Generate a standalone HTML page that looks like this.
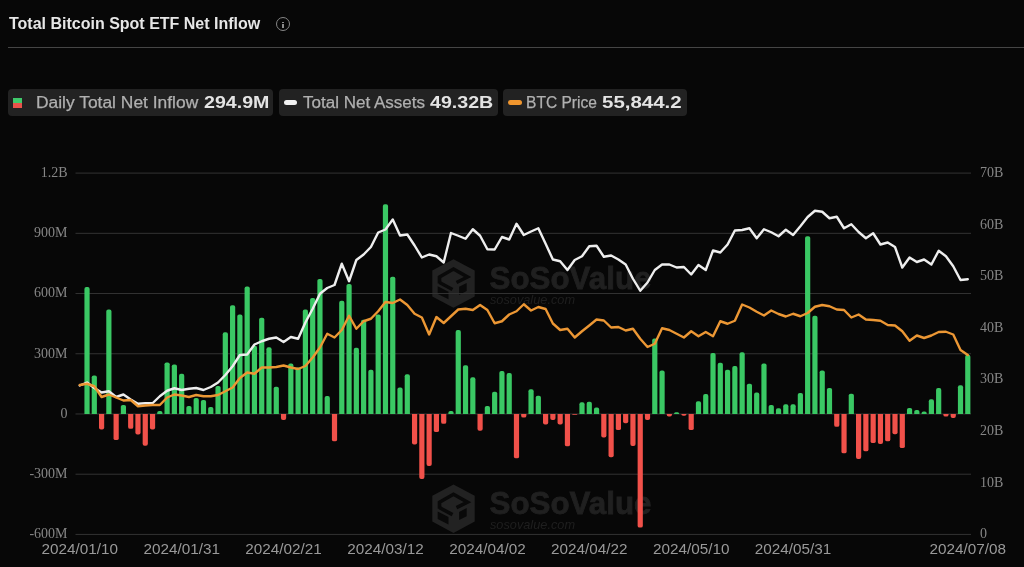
<!DOCTYPE html>
<html><head><meta charset="utf-8"><title>Total Bitcoin Spot ETF Net Inflow</title>
<style>
html,body{margin:0;padding:0;background:#070707;}
body{width:1024px;height:567px;position:relative;overflow:hidden;font-family:"Liberation Sans",sans-serif;}
.title{position:absolute;left:9px;top:14px;font-size:16px;font-weight:700;color:#e6e6e6;white-space:nowrap;line-height:20px;}
.info{position:absolute;left:276.1px;top:17.1px;width:12px;height:12px;border:1.3px solid #858585;border-radius:50%;}
.info i{position:absolute;left:5.35px;top:3.5px;width:1.3px;height:1.3px;background:#8c8c8c}
.info b{position:absolute;left:5.35px;top:5.7px;width:1.3px;height:4.1px;background:#8c8c8c}
.sep{position:absolute;left:8px;right:0;top:47px;height:1px;background:#454545}
.pill{position:absolute;top:89px;height:27px;background:#222;border-radius:4px;color:#b0b0b0;font-size:16px;line-height:27px;white-space:nowrap}
.pill span{position:absolute;top:0.3px;-webkit-text-stroke:0.25px #b0b0b0;transform-origin:0 50%;display:block}
.pill .v{font-weight:700;color:#e4e4e4;font-size:16.5px;top:0.2px;-webkit-text-stroke:0}
</style></head><body>
<div class="title" id="title">Total Bitcoin Spot ETF Net Inflow</div>
<div class="info"><i></i><b></b></div>
<div class="sep"></div>
<div class="pill" style="left:8px;width:265px"><div style="position:absolute;left:5px;top:9px;width:9px;height:5px;background:#3fc96b"></div><div style="position:absolute;left:5px;top:14px;width:9px;height:5px;background:#e8534a"></div><span id="l1" style="left:28px;transform:scaleX(1.088)">Daily Total Net Inflow</span><span class="v" id="v1" style="left:195.5px;transform:scaleX(1.188)">294.9M</span></div>
<div class="pill" style="left:279px;width:219px"><div style="position:absolute;left:4.5px;top:11px;width:13.5px;height:5px;border-radius:2.5px;background:#f2f2f2"></div><span id="l2" style="left:23.5px;transform:scaleX(1.064)">Total Net Assets</span><span class="v" id="v2" style="left:150.5px;transform:scaleX(1.188)">49.32B</span></div>
<div class="pill" style="left:503px;width:184px"><div style="position:absolute;left:4.5px;top:11px;width:14px;height:5px;border-radius:2.5px;background:#f0962e"></div><span id="l3" style="left:22.5px;transform:scaleX(0.973)">BTC Price</span><span class="v" id="v3" style="left:99px;transform:scaleX(1.24)">55,844.2</span></div>
<svg width="1024" height="567" viewBox="0 0 1024 567" style="position:absolute;left:0;top:0"><g transform="translate(453.5,283.5)"><path d="M0,-24.3 L21.2,-12.9 L21.2,12.9 L0,24.3 L-21.2,12.9 L-21.2,-12.9Z" fill="#222"/><g stroke="#090909" fill="none" stroke-width="3.6"><path d="M-14,0 L-14,-6.5 L0,-14.5 L14,-6.5 L3,-1"/><path d="M-14,-1 L-1,6"/></g><path d="M-15.8,2.8 L-5,8.2 L-5,15.8 L-15.8,10.4Z" fill="#090909"/><path d="M5.6,3.2 L13.2,-0.6 L13.2,7.6 L5.6,11.4Z" fill="#090909"/></g><text x="489.5" y="288.5" font-family="'Liberation Sans',sans-serif" font-weight="700" font-size="32" fill="#202020" stroke="#202020" stroke-width="0.8" textLength="162" lengthAdjust="spacingAndGlyphs">SoSoValue</text><text x="490" y="303.5" font-family="'Liberation Sans',sans-serif" font-style="italic" font-size="13" fill="#1f1f1f" textLength="85" lengthAdjust="spacingAndGlyphs">sosovalue.com</text>
<g transform="translate(453.5,508.7)"><path d="M0,-24.3 L21.2,-12.9 L21.2,12.9 L0,24.3 L-21.2,12.9 L-21.2,-12.9Z" fill="#222"/><g stroke="#090909" fill="none" stroke-width="3.6"><path d="M-14,0 L-14,-6.5 L0,-14.5 L14,-6.5 L3,-1"/><path d="M-14,-1 L-1,6"/></g><path d="M-15.8,2.8 L-5,8.2 L-5,15.8 L-15.8,10.4Z" fill="#090909"/><path d="M5.6,3.2 L13.2,-0.6 L13.2,7.6 L5.6,11.4Z" fill="#090909"/></g><text x="489.5" y="513.7" font-family="'Liberation Sans',sans-serif" font-weight="700" font-size="32" fill="#202020" stroke="#202020" stroke-width="0.8" textLength="162" lengthAdjust="spacingAndGlyphs">SoSoValue</text><text x="490" y="528.7" font-family="'Liberation Sans',sans-serif" font-style="italic" font-size="13" fill="#1f1f1f" textLength="85" lengthAdjust="spacingAndGlyphs">sosovalue.com</text>
<line x1="75.5" y1="173.1" x2="971" y2="173.1" stroke="#333" stroke-width="1"/>
<line x1="75.5" y1="233.32" x2="971" y2="233.32" stroke="#333" stroke-width="1"/>
<line x1="75.5" y1="293.54" x2="971" y2="293.54" stroke="#333" stroke-width="1"/>
<line x1="75.5" y1="353.76" x2="971" y2="353.76" stroke="#333" stroke-width="1"/>
<line x1="75.5" y1="413.98" x2="971" y2="413.98" stroke="#333" stroke-width="1"/>
<line x1="75.5" y1="474.2" x2="971" y2="474.2" stroke="#333" stroke-width="1"/>
<line x1="75.5" y1="534.42" x2="971" y2="534.42" stroke="#333" stroke-width="1"/>
<path d="M84.43,413.98 L84.43,289.02 Q84.43,287.12 86.33,287.12 L87.73,287.12 Q89.63,287.12 89.63,289.02 L89.63,413.98 Z" fill="#3ac864"/>
<path d="M91.71,413.98 L91.71,377.34 Q91.71,375.44 93.61,375.44 L95.01,375.44 Q96.91,375.44 96.91,377.34 L96.91,413.98 Z" fill="#3ac864"/>
<path d="M98.99,413.98 L98.99,427.54 Q98.99,429.44 100.89,429.44 L102.29,429.44 Q104.19,429.44 104.19,427.54 L104.19,413.98 Z" fill="#f1514a"/>
<path d="M106.27,413.98 L106.27,311.50 Q106.27,309.60 108.17,309.60 L109.57,309.60 Q111.47,309.60 111.47,311.50 L111.47,413.98 Z" fill="#3ac864"/>
<path d="M113.55,413.98 L113.55,438.18 Q113.55,440.08 115.45,440.08 L116.84,440.08 Q118.75,440.08 118.75,438.18 L118.75,413.98 Z" fill="#f1514a"/>
<path d="M120.82,413.98 L120.82,406.85 Q120.82,404.95 122.72,404.95 L124.12,404.95 Q126.02,404.95 126.02,406.85 L126.02,413.98 Z" fill="#3ac864"/>
<path d="M128.10,413.98 L128.10,426.93 Q128.10,428.83 130.00,428.83 L131.40,428.83 Q133.30,428.83 133.30,426.93 L133.30,413.98 Z" fill="#f1514a"/>
<path d="M135.38,413.98 L135.38,432.55 Q135.38,434.45 137.28,434.45 L138.68,434.45 Q140.58,434.45 140.58,432.55 L140.58,413.98 Z" fill="#f1514a"/>
<path d="M142.66,413.98 L142.66,443.80 Q142.66,445.70 144.56,445.70 L145.96,445.70 Q147.86,445.70 147.86,443.80 L147.86,413.98 Z" fill="#f1514a"/>
<path d="M149.94,413.98 L149.94,427.54 Q149.94,429.44 151.84,429.44 L153.24,429.44 Q155.14,429.44 155.14,427.54 L155.14,413.98 Z" fill="#f1514a"/>
<path d="M157.22,413.98 L157.22,412.87 Q157.22,410.97 159.12,410.97 L160.52,410.97 Q162.42,410.97 162.42,412.87 L162.42,413.98 Z" fill="#3ac864"/>
<path d="M164.50,413.98 L164.50,364.29 Q164.50,362.39 166.40,362.39 L167.80,362.39 Q169.70,362.39 169.70,364.29 L169.70,413.98 Z" fill="#3ac864"/>
<path d="M171.78,413.98 L171.78,366.30 Q171.78,364.40 173.68,364.40 L175.08,364.40 Q176.98,364.40 176.98,366.30 L176.98,413.98 Z" fill="#3ac864"/>
<path d="M179.06,413.98 L179.06,375.73 Q179.06,373.83 180.96,373.83 L182.36,373.83 Q184.26,373.83 184.26,375.73 L184.26,413.98 Z" fill="#3ac864"/>
<path d="M186.34,413.98 L186.34,407.85 Q186.34,405.95 188.24,405.95 L189.63,405.95 Q191.53,405.95 191.53,407.85 L191.53,413.98 Z" fill="#3ac864"/>
<path d="M193.61,413.98 L193.61,399.82 Q193.61,397.92 195.51,397.92 L196.91,397.92 Q198.81,397.92 198.81,399.82 L198.81,413.98 Z" fill="#3ac864"/>
<path d="M200.89,413.98 L200.89,401.83 Q200.89,399.93 202.79,399.93 L204.19,399.93 Q206.09,399.93 206.09,401.83 L206.09,413.98 Z" fill="#3ac864"/>
<path d="M208.17,413.98 L208.17,408.85 Q208.17,406.95 210.07,406.95 L211.47,406.95 Q213.37,406.95 213.37,408.85 L213.37,413.98 Z" fill="#3ac864"/>
<path d="M215.45,413.98 L215.45,387.78 Q215.45,385.88 217.35,385.88 L218.75,385.88 Q220.65,385.88 220.65,387.78 L220.65,413.98 Z" fill="#3ac864"/>
<path d="M222.73,413.98 L222.73,334.18 Q222.73,332.28 224.63,332.28 L226.03,332.28 Q227.93,332.28 227.93,334.18 L227.93,413.98 Z" fill="#3ac864"/>
<path d="M230.01,413.98 L230.01,307.08 Q230.01,305.18 231.91,305.18 L233.31,305.18 Q235.21,305.18 235.21,307.08 L235.21,413.98 Z" fill="#3ac864"/>
<path d="M237.29,413.98 L237.29,316.52 Q237.29,314.62 239.19,314.62 L240.59,314.62 Q242.49,314.62 242.49,316.52 L242.49,413.98 Z" fill="#3ac864"/>
<path d="M244.57,413.98 L244.57,288.41 Q244.57,286.51 246.47,286.51 L247.87,286.51 Q249.77,286.51 249.77,288.41 L249.77,413.98 Z" fill="#3ac864"/>
<path d="M251.85,413.98 L251.85,347.63 Q251.85,345.73 253.75,345.73 L255.15,345.73 Q257.05,345.73 257.05,347.63 L257.05,413.98 Z" fill="#3ac864"/>
<path d="M259.12,413.98 L259.12,319.53 Q259.12,317.63 261.02,317.63 L262.43,317.63 Q264.32,317.63 264.32,319.53 L264.32,413.98 Z" fill="#3ac864"/>
<path d="M266.40,413.98 L266.40,349.24 Q266.40,347.34 268.30,347.34 L269.70,347.34 Q271.60,347.34 271.60,349.24 L271.60,413.98 Z" fill="#3ac864"/>
<path d="M273.68,413.98 L273.68,388.58 Q273.68,386.68 275.58,386.68 L276.98,386.68 Q278.88,386.68 278.88,388.58 L278.88,413.98 Z" fill="#3ac864"/>
<path d="M280.96,413.98 L280.96,418.10 Q280.96,420.00 282.86,420.00 L284.26,420.00 Q286.16,420.00 286.16,418.10 L286.16,413.98 Z" fill="#f1514a"/>
<path d="M288.24,413.98 L288.24,365.50 Q288.24,363.60 290.14,363.60 L291.54,363.60 Q293.44,363.60 293.44,365.50 L293.44,413.98 Z" fill="#3ac864"/>
<path d="M295.52,413.98 L295.52,369.31 Q295.52,367.41 297.42,367.41 L298.82,367.41 Q300.72,367.41 300.72,369.31 L300.72,413.98 Z" fill="#3ac864"/>
<path d="M302.80,413.98 L302.80,311.50 Q302.80,309.60 304.70,309.60 L306.10,309.60 Q308.00,309.60 308.00,311.50 L308.00,413.98 Z" fill="#3ac864"/>
<path d="M310.08,413.98 L310.08,299.86 Q310.08,297.96 311.98,297.96 L313.38,297.96 Q315.28,297.96 315.28,299.86 L315.28,413.98 Z" fill="#3ac864"/>
<path d="M317.36,413.98 L317.36,280.79 Q317.36,278.89 319.26,278.89 L320.66,278.89 Q322.56,278.89 322.56,280.79 L322.56,413.98 Z" fill="#3ac864"/>
<path d="M324.64,413.98 L324.64,398.01 Q324.64,396.11 326.54,396.11 L327.94,396.11 Q329.84,396.11 329.84,398.01 L329.84,413.98 Z" fill="#3ac864"/>
<path d="M331.91,413.98 L331.91,439.38 Q331.91,441.28 333.81,441.28 L335.21,441.28 Q337.11,441.28 337.11,439.38 L337.11,413.98 Z" fill="#f1514a"/>
<path d="M339.19,413.98 L339.19,302.67 Q339.19,300.77 341.09,300.77 L342.49,300.77 Q344.39,300.77 344.39,302.67 L344.39,413.98 Z" fill="#3ac864"/>
<path d="M346.47,413.98 L346.47,285.80 Q346.47,283.90 348.37,283.90 L349.77,283.90 Q351.67,283.90 351.67,285.80 L351.67,413.98 Z" fill="#3ac864"/>
<path d="M353.75,413.98 L353.75,349.64 Q353.75,347.74 355.65,347.74 L357.05,347.74 Q358.95,347.74 358.95,349.64 L358.95,413.98 Z" fill="#3ac864"/>
<path d="M361.03,413.98 L361.03,321.54 Q361.03,319.64 362.93,319.64 L364.33,319.64 Q366.23,319.64 366.23,321.54 L366.23,413.98 Z" fill="#3ac864"/>
<path d="M368.31,413.98 L368.31,371.72 Q368.31,369.82 370.21,369.82 L371.61,369.82 Q373.51,369.82 373.51,371.72 L373.51,413.98 Z" fill="#3ac864"/>
<path d="M375.59,413.98 L375.59,316.52 Q375.59,314.62 377.49,314.62 L378.89,314.62 Q380.79,314.62 380.79,316.52 L380.79,413.98 Z" fill="#3ac864"/>
<path d="M382.87,413.98 L382.87,206.11 Q382.87,204.21 384.77,204.21 L386.17,204.21 Q388.07,204.21 388.07,206.11 L388.07,413.98 Z" fill="#3ac864"/>
<path d="M390.15,413.98 L390.15,278.58 Q390.15,276.68 392.05,276.68 L393.45,276.68 Q395.35,276.68 395.35,278.58 L395.35,413.98 Z" fill="#3ac864"/>
<path d="M397.43,413.98 L397.43,389.38 Q397.43,387.48 399.33,387.48 L400.73,387.48 Q402.63,387.48 402.63,389.38 L402.63,413.98 Z" fill="#3ac864"/>
<path d="M404.70,413.98 L404.70,376.13 Q404.70,374.23 406.60,374.23 L408.00,374.23 Q409.90,374.23 409.90,376.13 L409.90,413.98 Z" fill="#3ac864"/>
<path d="M411.98,413.98 L411.98,442.59 Q411.98,444.49 413.88,444.49 L415.28,444.49 Q417.18,444.49 417.18,442.59 L417.18,413.98 Z" fill="#f1514a"/>
<path d="M419.26,413.98 L419.26,477.12 Q419.26,479.02 421.16,479.02 L422.56,479.02 Q424.46,479.02 424.46,477.12 L424.46,413.98 Z" fill="#f1514a"/>
<path d="M426.54,413.98 L426.54,464.07 Q426.54,465.97 428.44,465.97 L429.84,465.97 Q431.74,465.97 431.74,464.07 L431.74,413.98 Z" fill="#f1514a"/>
<path d="M433.82,413.98 L433.82,430.15 Q433.82,432.05 435.72,432.05 L437.12,432.05 Q439.02,432.05 439.02,430.15 L439.02,413.98 Z" fill="#f1514a"/>
<path d="M441.10,413.98 L441.10,421.92 Q441.10,423.82 443.00,423.82 L444.40,423.82 Q446.30,423.82 446.30,421.92 L446.30,413.98 Z" fill="#f1514a"/>
<path d="M448.38,413.98 L448.38,412.87 Q448.38,410.97 450.28,410.97 L451.68,410.97 Q453.58,410.97 453.58,412.87 L453.58,413.98 Z" fill="#3ac864"/>
<path d="M455.66,413.98 L455.66,331.97 Q455.66,330.07 457.56,330.07 L458.96,330.07 Q460.86,330.07 460.86,331.97 L460.86,413.98 Z" fill="#3ac864"/>
<path d="M462.94,413.98 L462.94,367.10 Q462.94,365.20 464.84,365.20 L466.24,365.20 Q468.14,365.20 468.14,367.10 L468.14,413.98 Z" fill="#3ac864"/>
<path d="M470.22,413.98 L470.22,379.15 Q470.22,377.25 472.12,377.25 L473.52,377.25 Q475.42,377.25 475.42,379.15 L475.42,413.98 Z" fill="#3ac864"/>
<path d="M477.49,413.98 L477.49,428.74 Q477.49,430.64 479.39,430.64 L480.79,430.64 Q482.69,430.64 482.69,428.74 L482.69,413.98 Z" fill="#f1514a"/>
<path d="M484.77,413.98 L484.77,407.85 Q484.77,405.95 486.67,405.95 L488.07,405.95 Q489.97,405.95 489.97,407.85 L489.97,413.98 Z" fill="#3ac864"/>
<path d="M492.05,413.98 L492.05,393.60 Q492.05,391.70 493.95,391.70 L495.35,391.70 Q497.25,391.70 497.25,393.60 L497.25,413.98 Z" fill="#3ac864"/>
<path d="M499.33,413.98 L499.33,372.92 Q499.33,371.02 501.23,371.02 L502.63,371.02 Q504.53,371.02 504.53,372.92 L504.53,413.98 Z" fill="#3ac864"/>
<path d="M506.61,413.98 L506.61,374.93 Q506.61,373.03 508.51,373.03 L509.91,373.03 Q511.81,373.03 511.81,374.93 L511.81,413.98 Z" fill="#3ac864"/>
<path d="M513.89,413.98 L513.89,456.44 Q513.89,458.34 515.79,458.34 L517.19,458.34 Q519.09,458.34 519.09,456.44 L519.09,413.98 Z" fill="#f1514a"/>
<path d="M521.17,413.98 L521.17,415.69 Q521.17,417.59 523.07,417.59 L524.47,417.59 Q526.37,417.59 526.37,415.69 L526.37,413.98 Z" fill="#f1514a"/>
<path d="M528.45,413.98 L528.45,391.19 Q528.45,389.29 530.35,389.29 L531.75,389.29 Q533.65,389.29 533.65,391.19 L533.65,413.98 Z" fill="#3ac864"/>
<path d="M535.73,413.98 L535.73,397.61 Q535.73,395.71 537.63,395.71 L539.03,395.71 Q540.93,395.71 540.93,397.61 L540.93,413.98 Z" fill="#3ac864"/>
<path d="M543.01,413.98 L543.01,422.52 Q543.01,424.42 544.91,424.42 L546.31,424.42 Q548.21,424.42 548.21,422.52 L548.21,413.98 Z" fill="#f1514a"/>
<path d="M550.28,413.98 L550.28,418.10 Q550.28,420.00 552.18,420.00 L553.59,420.00 Q555.49,420.00 555.49,418.10 L555.49,413.98 Z" fill="#f1514a"/>
<path d="M557.56,413.98 L557.56,422.52 Q557.56,424.42 559.46,424.42 L560.86,424.42 Q562.76,424.42 562.76,422.52 L562.76,413.98 Z" fill="#f1514a"/>
<path d="M564.84,413.98 L564.84,444.40 Q564.84,446.30 566.74,446.30 L568.14,446.30 Q570.04,446.30 570.04,444.40 L570.04,413.98 Z" fill="#f1514a"/>
<path d="M572.12,413.98 L572.12,413.98 Q572.12,414.78 572.92,414.78 L576.52,414.78 Q577.32,414.78 577.32,413.98 L577.32,413.98 Z" fill="#f1514a"/>
<path d="M579.40,413.98 L579.40,404.24 Q579.40,402.34 581.30,402.34 L582.70,402.34 Q584.60,402.34 584.60,404.24 L584.60,413.98 Z" fill="#3ac864"/>
<path d="M586.68,413.98 L586.68,403.64 Q586.68,401.74 588.58,401.74 L589.98,401.74 Q591.88,401.74 591.88,403.64 L591.88,413.98 Z" fill="#3ac864"/>
<path d="M593.96,413.98 L593.96,409.46 Q593.96,407.56 595.86,407.56 L597.26,407.56 Q599.16,407.56 599.16,409.46 L599.16,413.98 Z" fill="#3ac864"/>
<path d="M601.24,413.98 L601.24,435.57 Q601.24,437.47 603.14,437.47 L604.54,437.47 Q606.44,437.47 606.44,435.57 L606.44,413.98 Z" fill="#f1514a"/>
<path d="M608.52,413.98 L608.52,455.24 Q608.52,457.14 610.42,457.14 L611.82,457.14 Q613.72,457.14 613.72,455.24 L613.72,413.98 Z" fill="#f1514a"/>
<path d="M615.80,413.98 L615.80,428.14 Q615.80,430.04 617.70,430.04 L619.10,430.04 Q621.00,430.04 621.00,428.14 L621.00,413.98 Z" fill="#f1514a"/>
<path d="M623.07,413.98 L623.07,421.31 Q623.07,423.21 624.97,423.21 L626.38,423.21 Q628.27,423.21 628.27,421.31 L628.27,413.98 Z" fill="#f1514a"/>
<path d="M630.35,413.98 L630.35,444.00 Q630.35,445.90 632.25,445.90 L633.65,445.90 Q635.55,445.90 635.55,444.00 L635.55,413.98 Z" fill="#f1514a"/>
<path d="M637.63,413.98 L637.63,525.70 Q637.63,527.60 639.53,527.60 L640.93,527.60 Q642.83,527.60 642.83,525.70 L642.83,413.98 Z" fill="#f1514a"/>
<path d="M644.91,413.98 L644.91,418.10 Q644.91,420.00 646.81,420.00 L648.21,420.00 Q650.11,420.00 650.11,418.10 L650.11,413.98 Z" fill="#f1514a"/>
<path d="M652.19,413.98 L652.19,340.40 Q652.19,338.50 654.09,338.50 L655.49,338.50 Q657.39,338.50 657.39,340.40 L657.39,413.98 Z" fill="#3ac864"/>
<path d="M659.47,413.98 L659.47,372.52 Q659.47,370.62 661.37,370.62 L662.77,370.62 Q664.67,370.62 664.67,372.52 L664.67,413.98 Z" fill="#3ac864"/>
<path d="M666.75,413.98 L666.75,414.49 Q666.75,416.39 668.65,416.39 L670.05,416.39 Q671.95,416.39 671.95,414.49 L671.95,413.98 Z" fill="#f1514a"/>
<path d="M674.03,413.98 L674.03,413.98 Q674.03,412.37 675.63,412.37 L677.62,412.37 Q679.23,412.37 679.23,413.98 L679.23,413.98 Z" fill="#3ac864"/>
<path d="M681.31,413.98 L681.31,413.98 Q681.31,415.79 683.11,415.79 L684.70,415.79 Q686.51,415.79 686.51,413.98 L686.51,413.98 Z" fill="#f1514a"/>
<path d="M688.59,413.98 L688.59,428.14 Q688.59,430.04 690.49,430.04 L691.89,430.04 Q693.79,430.04 693.79,428.14 L693.79,413.98 Z" fill="#f1514a"/>
<path d="M695.87,413.98 L695.87,403.03 Q695.87,401.13 697.76,401.13 L699.17,401.13 Q701.07,401.13 701.07,403.03 L701.07,413.98 Z" fill="#3ac864"/>
<path d="M703.14,413.98 L703.14,396.01 Q703.14,394.11 705.04,394.11 L706.44,394.11 Q708.34,394.11 708.34,396.01 L708.34,413.98 Z" fill="#3ac864"/>
<path d="M710.42,413.98 L710.42,354.86 Q710.42,352.96 712.32,352.96 L713.72,352.96 Q715.62,352.96 715.62,354.86 L715.62,413.98 Z" fill="#3ac864"/>
<path d="M717.70,413.98 L717.70,364.69 Q717.70,362.79 719.60,362.79 L721.00,362.79 Q722.90,362.79 722.90,364.69 L722.90,413.98 Z" fill="#3ac864"/>
<path d="M724.98,413.98 L724.98,371.72 Q724.98,369.82 726.88,369.82 L728.28,369.82 Q730.18,369.82 730.18,371.72 L730.18,413.98 Z" fill="#3ac864"/>
<path d="M732.26,413.98 L732.26,367.90 Q732.26,366.00 734.16,366.00 L735.56,366.00 Q737.46,366.00 737.46,367.90 L737.46,413.98 Z" fill="#3ac864"/>
<path d="M739.54,413.98 L739.54,354.25 Q739.54,352.35 741.44,352.35 L742.84,352.35 Q744.74,352.35 744.74,354.25 L744.74,413.98 Z" fill="#3ac864"/>
<path d="M746.82,413.98 L746.82,385.57 Q746.82,383.67 748.72,383.67 L750.12,383.67 Q752.02,383.67 752.02,385.57 L752.02,413.98 Z" fill="#3ac864"/>
<path d="M754.10,413.98 L754.10,394.40 Q754.10,392.50 756.00,392.50 L757.40,392.50 Q759.30,392.50 759.30,394.40 L759.30,413.98 Z" fill="#3ac864"/>
<path d="M761.38,413.98 L761.38,365.50 Q761.38,363.60 763.28,363.60 L764.68,363.60 Q766.58,363.60 766.58,365.50 L766.58,413.98 Z" fill="#3ac864"/>
<path d="M768.65,413.98 L768.65,406.85 Q768.65,404.95 770.55,404.95 L771.96,404.95 Q773.86,404.95 773.86,406.85 L773.86,413.98 Z" fill="#3ac864"/>
<path d="M775.93,413.98 L775.93,410.06 Q775.93,408.16 777.83,408.16 L779.23,408.16 Q781.13,408.16 781.13,410.06 L781.13,413.98 Z" fill="#3ac864"/>
<path d="M783.21,413.98 L783.21,406.24 Q783.21,404.34 785.11,404.34 L786.51,404.34 Q788.41,404.34 788.41,406.24 L788.41,413.98 Z" fill="#3ac864"/>
<path d="M790.49,413.98 L790.49,406.24 Q790.49,404.34 792.39,404.34 L793.79,404.34 Q795.69,404.34 795.69,406.24 L795.69,413.98 Z" fill="#3ac864"/>
<path d="M797.77,413.98 L797.77,394.80 Q797.77,392.90 799.67,392.90 L801.07,392.90 Q802.97,392.90 802.97,394.80 L802.97,413.98 Z" fill="#3ac864"/>
<path d="M805.05,413.98 L805.05,238.03 Q805.05,236.13 806.95,236.13 L808.35,236.13 Q810.25,236.13 810.25,238.03 L810.25,413.98 Z" fill="#3ac864"/>
<path d="M812.33,413.98 L812.33,317.72 Q812.33,315.82 814.23,315.82 L815.63,315.82 Q817.53,315.82 817.53,317.72 L817.53,413.98 Z" fill="#3ac864"/>
<path d="M819.61,413.98 L819.61,372.32 Q819.61,370.42 821.51,370.42 L822.91,370.42 Q824.81,370.42 824.81,372.32 L824.81,413.98 Z" fill="#3ac864"/>
<path d="M826.89,413.98 L826.89,389.78 Q826.89,387.88 828.79,387.88 L830.19,387.88 Q832.09,387.88 832.09,389.78 L832.09,413.98 Z" fill="#3ac864"/>
<path d="M834.17,413.98 L834.17,424.93 Q834.17,426.83 836.07,426.83 L837.47,426.83 Q839.37,426.83 839.37,424.93 L839.37,413.98 Z" fill="#f1514a"/>
<path d="M841.44,413.98 L841.44,451.42 Q841.44,453.32 843.34,453.32 L844.75,453.32 Q846.64,453.32 846.64,451.42 L846.64,413.98 Z" fill="#f1514a"/>
<path d="M848.72,413.98 L848.72,395.61 Q848.72,393.71 850.62,393.71 L852.02,393.71 Q853.92,393.71 853.92,395.61 L853.92,413.98 Z" fill="#3ac864"/>
<path d="M856.00,413.98 L856.00,457.04 Q856.00,458.94 857.90,458.94 L859.30,458.94 Q861.20,458.94 861.20,457.04 L861.20,413.98 Z" fill="#f1514a"/>
<path d="M863.28,413.98 L863.28,449.42 Q863.28,451.32 865.18,451.32 L866.58,451.32 Q868.48,451.32 868.48,449.42 L868.48,413.98 Z" fill="#f1514a"/>
<path d="M870.56,413.98 L870.56,441.19 Q870.56,443.09 872.46,443.09 L873.86,443.09 Q875.76,443.09 875.76,441.19 L875.76,413.98 Z" fill="#f1514a"/>
<path d="M877.84,413.98 L877.84,441.99 Q877.84,443.89 879.74,443.89 L881.14,443.89 Q883.04,443.89 883.04,441.99 L883.04,413.98 Z" fill="#f1514a"/>
<path d="M885.12,413.98 L885.12,439.38 Q885.12,441.28 887.02,441.28 L888.42,441.28 Q890.32,441.28 890.32,439.38 L890.32,413.98 Z" fill="#f1514a"/>
<path d="M892.40,413.98 L892.40,432.35 Q892.40,434.25 894.30,434.25 L895.70,434.25 Q897.60,434.25 897.60,432.35 L897.60,413.98 Z" fill="#f1514a"/>
<path d="M899.68,413.98 L899.68,446.20 Q899.68,448.10 901.58,448.10 L902.98,448.10 Q904.88,448.10 904.88,446.20 L904.88,413.98 Z" fill="#f1514a"/>
<path d="M906.96,413.98 L906.96,409.86 Q906.96,407.96 908.86,407.96 L910.26,407.96 Q912.16,407.96 912.16,409.86 L912.16,413.98 Z" fill="#3ac864"/>
<path d="M914.24,413.98 L914.24,411.87 Q914.24,409.97 916.13,409.97 L917.54,409.97 Q919.44,409.97 919.44,411.87 L919.44,413.98 Z" fill="#3ac864"/>
<path d="M921.51,413.98 L921.51,413.47 Q921.51,411.57 923.41,411.57 L924.81,411.57 Q926.71,411.57 926.71,413.47 L926.71,413.98 Z" fill="#3ac864"/>
<path d="M928.79,413.98 L928.79,401.23 Q928.79,399.33 930.69,399.33 L932.09,399.33 Q933.99,399.33 933.99,401.23 L933.99,413.98 Z" fill="#3ac864"/>
<path d="M936.07,413.98 L936.07,389.99 Q936.07,388.09 937.97,388.09 L939.37,388.09 Q941.27,388.09 941.27,389.99 L941.27,413.98 Z" fill="#3ac864"/>
<path d="M943.35,413.98 L943.35,414.69 Q943.35,416.59 945.25,416.59 L946.65,416.59 Q948.55,416.59 948.55,414.69 L948.55,413.98 Z" fill="#f1514a"/>
<path d="M950.63,413.98 L950.63,416.09 Q950.63,417.99 952.53,417.99 L953.93,417.99 Q955.83,417.99 955.83,416.09 L955.83,413.98 Z" fill="#f1514a"/>
<path d="M957.91,413.98 L957.91,387.18 Q957.91,385.28 959.81,385.28 L961.21,385.28 Q963.11,385.28 963.11,387.18 L963.11,413.98 Z" fill="#3ac864"/>
<path d="M965.19,413.98 L965.19,356.66 Q965.19,354.76 967.09,354.76 L968.49,354.76 Q970.39,354.76 970.39,356.66 L970.39,413.98 Z" fill="#3ac864"/>
<polyline points="79.75,385.50 87.03,382.50 94.31,388.00 101.59,392.50 108.87,391.25 116.14,397.00 123.42,394.50 130.70,399.50 137.98,403.75 145.26,403.25 152.54,403.25 159.82,396.25 167.10,390.75 174.38,388.25 181.66,390.00 188.94,388.75 196.21,388.00 203.49,390.00 210.77,387.00 218.05,382.50 225.33,375.00 232.61,366.25 239.89,355.00 247.17,354.50 254.45,344.50 261.73,341.25 269.00,338.75 276.28,337.50 283.56,342.00 290.84,337.00 298.12,338.75 305.40,322.50 312.68,308.75 319.96,293.75 327.24,288.00 334.51,285.00 341.79,263.75 349.07,281.25 356.35,260.00 363.63,254.50 370.91,247.00 378.19,232.50 385.47,229.50 392.75,219.50 400.03,235.50 407.31,234.50 414.58,245.50 421.86,257.50 429.14,254.50 436.42,256.25 443.70,262.50 450.98,233.00 458.26,235.75 465.54,238.75 472.82,229.25 480.09,235.75 487.37,249.25 494.65,249.50 501.93,237.00 509.21,239.50 516.49,223.75 523.77,235.00 531.05,231.50 538.33,228.25 545.61,243.75 552.88,259.50 560.16,261.25 567.44,270.00 574.72,260.00 582.00,256.25 589.28,246.25 596.56,245.75 603.84,256.75 611.12,255.50 618.40,259.50 625.67,264.50 632.95,278.75 640.23,290.75 647.51,282.50 654.79,270.00 662.07,264.50 669.35,264.50 676.63,267.50 683.91,267.00 691.19,274.50 698.47,265.00 705.74,270.00 713.02,250.50 720.30,252.50 727.58,244.50 734.86,230.50 742.14,230.00 749.42,228.25 756.70,238.25 763.98,229.25 771.25,232.25 778.53,236.25 785.81,229.75 793.09,235.00 800.37,226.25 807.65,217.00 814.93,210.75 822.21,211.75 829.49,218.25 836.77,216.75 844.04,228.25 851.32,224.25 858.60,232.00 865.88,238.25 873.16,233.25 880.44,244.50 887.72,242.50 895.00,247.00 902.28,267.50 909.56,257.50 916.84,262.00 924.11,259.50 931.39,264.50 938.67,250.75 945.95,256.25 953.23,266.25 960.51,280.00 967.79,279.25" fill="none" stroke="#eeeeee" stroke-width="2.4" stroke-linejoin="round" stroke-linecap="round"/>
<polyline points="79.75,385.00 87.03,383.75 94.31,386.25 101.59,397.00 108.87,394.50 116.14,397.50 123.42,400.50 130.70,400.00 137.98,406.25 145.26,405.50 152.54,405.00 159.82,405.00 167.10,397.50 174.38,394.50 181.66,395.50 188.94,397.00 196.21,395.00 203.49,396.25 210.77,396.25 218.05,395.00 225.33,391.25 232.61,387.50 239.89,378.00 247.17,372.50 254.45,373.75 261.73,367.50 269.00,367.50 276.28,367.00 283.56,365.50 290.84,367.50 298.12,369.00 305.40,366.00 312.68,357.50 319.96,347.50 327.24,333.75 334.51,337.50 341.79,330.00 349.07,315.75 356.35,328.75 363.63,321.25 370.91,318.75 378.19,311.25 385.47,302.00 392.75,303.00 400.03,299.50 407.31,305.00 414.58,313.75 421.86,317.50 429.14,334.50 436.42,317.00 443.70,323.00 450.98,316.25 458.26,309.50 465.54,308.75 472.82,310.00 480.09,305.00 487.37,310.00 494.65,323.25 501.93,321.25 509.21,314.50 516.49,311.25 523.77,304.25 531.05,310.50 538.33,307.00 545.61,309.00 552.88,323.50 560.16,330.00 567.44,328.75 574.72,337.50 582.00,331.25 589.28,325.50 596.56,319.50 603.84,320.50 611.12,327.50 618.40,327.00 625.67,330.50 632.95,328.75 640.23,338.75 647.51,347.00 654.79,343.75 662.07,328.25 669.35,330.00 676.63,333.75 683.91,337.50 691.19,331.25 698.47,336.25 705.74,332.00 713.02,336.25 720.30,321.25 727.58,323.75 734.86,320.75 742.14,304.50 749.42,307.50 756.70,311.75 763.98,315.50 771.25,310.50 778.53,314.00 785.81,316.50 793.09,313.75 800.37,316.25 807.65,313.00 814.93,306.75 822.21,305.00 829.49,306.25 836.77,309.50 844.04,310.00 851.32,317.50 858.60,314.50 865.88,319.50 873.16,320.00 880.44,320.75 887.72,325.00 895.00,325.50 902.28,331.25 909.56,340.75 916.84,335.50 924.11,338.00 931.39,335.50 938.67,332.00 945.95,331.75 953.23,334.50 960.51,350.00 967.79,355.00" fill="none" stroke="#ec9734" stroke-width="2.4" stroke-linejoin="round" stroke-linecap="round"/>
<text x="67.5" y="176.90" text-anchor="end" font-family="'Liberation Serif',serif" font-size="14" fill="#868686">1.2B</text>
<text x="67.5" y="237.12" text-anchor="end" font-family="'Liberation Serif',serif" font-size="14" fill="#868686">900M</text>
<text x="67.5" y="297.34" text-anchor="end" font-family="'Liberation Serif',serif" font-size="14" fill="#868686">600M</text>
<text x="67.5" y="357.56" text-anchor="end" font-family="'Liberation Serif',serif" font-size="14" fill="#868686">300M</text>
<text x="67.5" y="417.78" text-anchor="end" font-family="'Liberation Serif',serif" font-size="14" fill="#868686">0</text>
<text x="67.5" y="478.00" text-anchor="end" font-family="'Liberation Serif',serif" font-size="14" fill="#868686">-300M</text>
<text x="67.5" y="538.22" text-anchor="end" font-family="'Liberation Serif',serif" font-size="14" fill="#868686">-600M</text>
<text x="980" y="176.90" font-family="'Liberation Serif',serif" font-size="14" fill="#868686">70B</text>
<text x="980" y="228.52" font-family="'Liberation Serif',serif" font-size="14" fill="#868686">60B</text>
<text x="980" y="280.13" font-family="'Liberation Serif',serif" font-size="14" fill="#868686">50B</text>
<text x="980" y="331.75" font-family="'Liberation Serif',serif" font-size="14" fill="#868686">40B</text>
<text x="980" y="383.37" font-family="'Liberation Serif',serif" font-size="14" fill="#868686">30B</text>
<text x="980" y="434.99" font-family="'Liberation Serif',serif" font-size="14" fill="#868686">20B</text>
<text x="980" y="486.60" font-family="'Liberation Serif',serif" font-size="14" fill="#868686">10B</text>
<text x="980" y="538.22" font-family="'Liberation Serif',serif" font-size="14" fill="#868686">0</text>
<text x="79.8" y="553.5" text-anchor="middle" font-family="'Liberation Sans',sans-serif" font-size="14.3" fill="#999" textLength="76.5" lengthAdjust="spacingAndGlyphs">2024/01/10</text>
<text x="181.7" y="553.5" text-anchor="middle" font-family="'Liberation Sans',sans-serif" font-size="14.3" fill="#999" textLength="76.5" lengthAdjust="spacingAndGlyphs">2024/01/31</text>
<text x="283.6" y="553.5" text-anchor="middle" font-family="'Liberation Sans',sans-serif" font-size="14.3" fill="#999" textLength="76.5" lengthAdjust="spacingAndGlyphs">2024/02/21</text>
<text x="385.5" y="553.5" text-anchor="middle" font-family="'Liberation Sans',sans-serif" font-size="14.3" fill="#999" textLength="76.5" lengthAdjust="spacingAndGlyphs">2024/03/12</text>
<text x="487.4" y="553.5" text-anchor="middle" font-family="'Liberation Sans',sans-serif" font-size="14.3" fill="#999" textLength="76.5" lengthAdjust="spacingAndGlyphs">2024/04/02</text>
<text x="589.3" y="553.5" text-anchor="middle" font-family="'Liberation Sans',sans-serif" font-size="14.3" fill="#999" textLength="76.5" lengthAdjust="spacingAndGlyphs">2024/04/22</text>
<text x="691.2" y="553.5" text-anchor="middle" font-family="'Liberation Sans',sans-serif" font-size="14.3" fill="#999" textLength="76.5" lengthAdjust="spacingAndGlyphs">2024/05/10</text>
<text x="793.1" y="553.5" text-anchor="middle" font-family="'Liberation Sans',sans-serif" font-size="14.3" fill="#999" textLength="76.5" lengthAdjust="spacingAndGlyphs">2024/05/31</text>
<text x="967.8" y="553.5" text-anchor="middle" font-family="'Liberation Sans',sans-serif" font-size="14.3" fill="#999" textLength="76.5" lengthAdjust="spacingAndGlyphs">2024/07/08</text></svg>
</body></html>
